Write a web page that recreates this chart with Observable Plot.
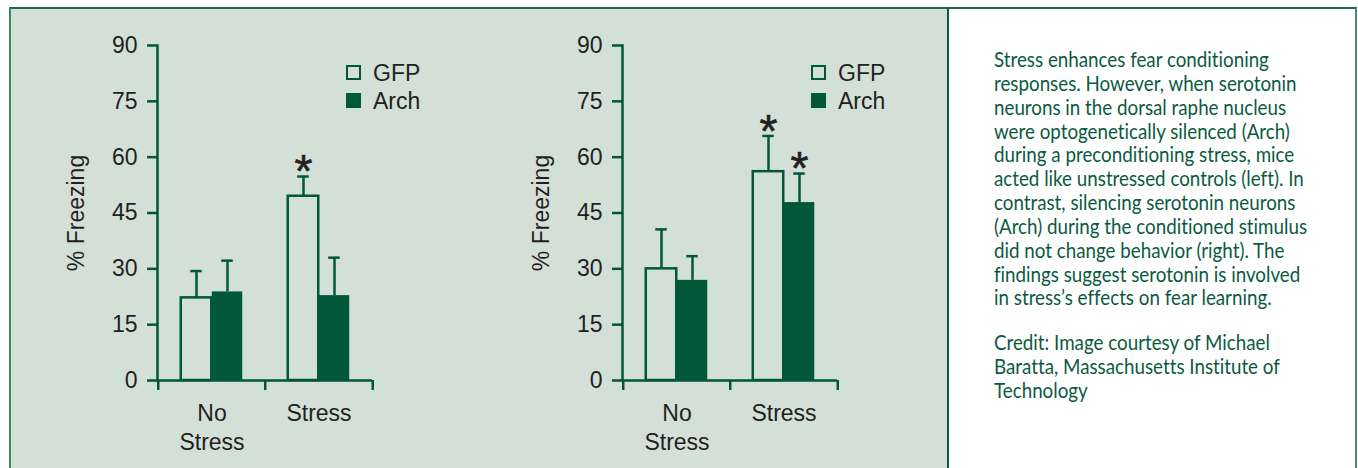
<!DOCTYPE html>
<html><head><meta charset="utf-8">
<script src="https://cdn.jsdelivr.net/npm/d3@7"></script>
<script src="https://cdn.jsdelivr.net/npm/@observablehq/plot@0.6"></script>
<style>
html,body{margin:0;padding:0;background:#fff;}
body{width:1358px;height:468px;overflow:hidden;position:relative;font-family:"Liberation Sans",Arial,sans-serif;}
#panel{position:absolute;left:9px;top:7px;width:936px;height:470px;background:#d3e0d8;border-top:2px solid #1d6b4f;border-left:2px solid #3a8868;}
#note{position:absolute;left:947px;top:7px;width:406px;height:470px;background:#fff;border-top:2px solid #1d6b4f;border-left:2px solid #0d5a3e;border-right:2px solid #3f8f70;}
.chart{position:absolute;top:8px;}
.chart svg{background:transparent;max-width:none;}
.legend{position:absolute;font-size:23px;color:#231f20;line-height:28px;}
.legend .row{position:relative;height:28px;white-space:nowrap;}
.legend .sw{position:absolute;left:0;top:6px;width:15px;height:15px;box-sizing:border-box;}
.legend .lab{position:absolute;left:27px;top:0;}
#text{position:absolute;left:994px;top:48px;font-family:Lato,"Noto Sans",sans-serif;font-size:21.5px;line-height:23.85px;color:#0b5a3f;transform-origin:0 0;font-variant-ligatures:none;font-feature-settings:"liga" 0,"clig" 0;}
#text .ln{white-space:nowrap;}
#text .ln span{display:inline-block;}
</style>
</head><body>
<div id="panel"></div>
<div id="note"></div>
<div id="left" class="chart" style="left:10px"></div>
<div id="right" class="chart" style="left:475px"></div>
<div id="text"></div>
<script>
// ---- data ----
const groups = ["No Stress", "Stress"];
const groupLabels = ["No\nStress", "Stress"];
const series = ["GFP", "Arch"];
const yTicks = [0, 15, 30, 45, 60, 75, 90];
const yLabel = "% Freezing";

const leftGFP = [22.2, 49.5];
const leftGFPsem = [7.2, 5.3];
const leftGFPsig = [false, true];
const leftArch = [23.8, 22.8];
const leftArchSem = [8.4, 10.2];
const leftArchSig = [false, false];

const rightGFP = [30.0, 56.1];
const rightGFPsem = [10.6, 9.6];
const rightGFPsig = [false, true];
const rightArch = [26.9, 47.8];
const rightArchSem = [6.5, 7.8];
const rightArchSig = [false, true];

const noteLines = [
  "Stress enhances fear conditioning",
  "responses. However, when serotonin",
  "neurons in the dorsal raphe nucleus",
  "were optogenetically silenced (Arch)",
  "during a preconditioning stress, mice",
  "acted like unstressed controls (left). In",
  "contrast, silencing serotonin neurons",
  "(Arch) during the conditioned stimulus",
  "did not change behavior (right). The",
  "findings suggest serotonin is involved",
  "in stress\u2019s effects on fear learning."
];
const creditLines = [
  "Credit: Image courtesy of Michael",
  "Baratta, Massachusetts Institute of",
  "Technology"
];

// ---- style ----
const GREEN = "#00573a";
const BG = "#d3e0d8";
const TEXT = "#231f20";
const W = 465, H = 460, ML = 147, MR = 103, MT = 37, MB = 88;
const BW = (W - ML - MR) / groups.length;
const BAR = 31, CAP = 12, SW = 2.5;
const off = {GFP: -BAR / 2, Arch: BAR / 2};

function rowsOf(gfp, gfpSem, gfpSig, arch, archSem, archSig) {
  const rows = [];
  groups.forEach((g, i) => {
    rows.push({group: g, series: "GFP", mean: gfp[i], sem: gfpSem[i], sig: gfpSig[i]});
    rows.push({group: g, series: "Arch", mean: arch[i], sem: archSem[i], sig: archSig[i]});
  });
  return rows;
}

function chart(rows) {
  const marks = [];
  for (const s of series) {
    const d = rows.filter(r => r.series === s);
    const o = off[s];
    marks.push(Plot.ruleX(d, {x: "group", y1: "mean", y2: r => r.mean + r.sem, dx: o, stroke: GREEN, strokeWidth: SW}));
    marks.push(Plot.tickY(d, {x: "group", y: r => r.mean + r.sem, insetLeft: BW / 2 + o - CAP / 2, insetRight: BW / 2 - o - CAP / 2, stroke: GREEN, strokeWidth: SW}));
    marks.push(Plot.text(d.filter(r => r.sig), {x: "group", y: r => r.mean + r.sem, text: () => "*", dx: o, dy: -4, fontSize: 46, fill: TEXT, stroke: TEXT, strokeWidth: 0.6, lineAnchor: "middle"}));
  }
  const arch = rows.filter(r => r.series === "Arch");
  const gfp = rows.filter(r => r.series === "GFP");
  marks.push(Plot.barY(arch, {x: "group", y: "mean", insetLeft: BW / 2, insetRight: BW / 2 - BAR, fill: GREEN}));
  marks.push(Plot.barY(gfp, {x: "group", y: "mean", insetLeft: BW / 2 - BAR, insetRight: BW / 2, fill: BG, stroke: GREEN, strokeWidth: SW}));
  marks.push(Plot.frame({anchor: "left", stroke: GREEN, strokeWidth: SW}));
  marks.push(Plot.ruleY([0], {stroke: GREEN, strokeWidth: SW}));
  marks.push(Plot.axisY(yTicks, {tickSize: 10, tickPadding: 10, stroke: GREEN, strokeWidth: SW, fill: TEXT, fontSize: 23,
    label: yLabel, labelAnchor: "center", labelOffset: 90, labelArrow: false}));
  marks.push(Plot.axisX(groups, {tickSize: 10, dx: -BW / 2, tickFormat: () => "", label: null, stroke: GREEN, strokeWidth: SW}));
  marks.push(Plot.axisX([groups[groups.length - 1]], {tickSize: 10, dx: BW / 2, tickFormat: () => "", label: null, stroke: GREEN, strokeWidth: SW}));
  marks.push(Plot.axisX(groups, {tickSize: 0, tickPadding: 20, tickFormat: g => groupLabels[groups.indexOf(g)], fontSize: 23, lineHeight: 1.25, fill: TEXT, label: null}));
  return Plot.plot({
    width: W, height: H,
    marginLeft: ML, marginRight: MR, marginTop: MT, marginBottom: MB,
    x: {domain: groups, padding: 0},
    y: {domain: [0, 90]},
    style: {background: "transparent", fontFamily: "'Liberation Sans', Arial, sans-serif", fontSize: "23px", color: TEXT, overflow: "visible"},
    marks
  });
}

function legend(axisX) {
  const lg = document.createElement("div");
  lg.className = "legend";
  lg.style.left = (axisX + 189) + "px";
  lg.style.top = "59px";
  series.forEach(s => {
    const row = document.createElement("div");
    row.className = "row";
    const sw = document.createElement("div");
    sw.className = "sw";
    if (s === "GFP") { sw.style.border = "2.5px solid " + GREEN; sw.style.background = BG; }
    else { sw.style.background = GREEN; }
    const lab = document.createElement("div");
    lab.className = "lab";
    lab.textContent = s;
    row.appendChild(sw); row.appendChild(lab);
    lg.appendChild(row);
  });
  document.body.appendChild(lg);
}

document.getElementById("left").appendChild(chart(rowsOf(leftGFP, leftGFPsem, leftGFPsig, leftArch, leftArchSem, leftArchSig)));
document.getElementById("right").appendChild(chart(rowsOf(rightGFP, rightGFPsem, rightGFPsig, rightArch, rightArchSem, rightArchSig)));
legend(10 + ML);
legend(475 + ML);

// note text
const t = document.getElementById("text");
const spans = [];
noteLines.forEach(l => { const d = document.createElement("div"); d.className = "ln"; const s = document.createElement("span"); s.textContent = l; d.appendChild(s); t.appendChild(d); spans.push(s); });
const gap = document.createElement("div"); gap.style.height = "21px"; t.appendChild(gap);
creditLines.forEach(l => { const d = document.createElement("div"); d.className = "ln"; const s = document.createElement("span"); s.textContent = l; d.appendChild(s); t.appendChild(d); });
const k = (274 / spans[0].getBoundingClientRect().width + 314 / spans[7].getBoundingClientRect().width) / 2;
t.style.transform = "scaleX(" + k + ")";
</script>
</body></html>
